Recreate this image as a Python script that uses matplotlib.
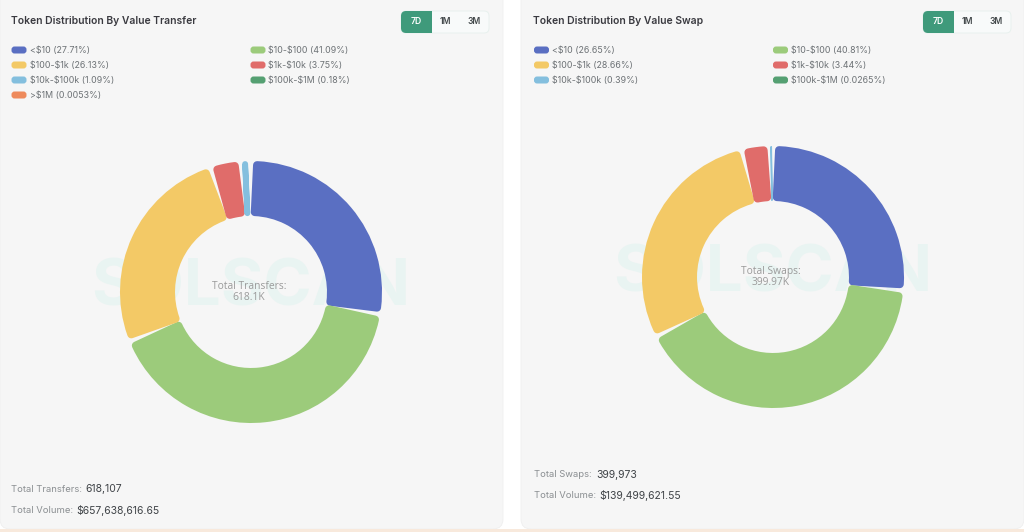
import matplotlib
matplotlib.use("Agg")
import matplotlib.pyplot as plt
from matplotlib.patches import FancyBboxPatch, Rectangle

plt.rcParams['font.family'] = ['Inter', 'DejaVu Sans']

# left chart
transfer_labels = ['<$10', '$10-$100', '$100-$1k', '$1k-$10k', '$10k-$100k', '$100k-$1M', '>$1M']
transfer_pct = [27.71, 41.09, 26.13, 3.75, 1.09, 0.18, 0.0053]
transfer_pct_text = ['27.71%', '41.09%', '26.13%', '3.75%', '1.09%', '0.18%', '0.0053%']
# right chart
swap_labels = ['<$10', '$10-$100', '$100-$1k', '$1k-$10k', '$10k-$100k', '$100k-$1M']
swap_pct = [26.65, 40.81, 28.66, 3.44, 0.39, 0.0265]
swap_pct_text = ['26.65%', '40.81%', '28.66%', '3.44%', '0.39%', '0.0265%']

colors = ['#5a6fc2', '#9ccb7b', '#f3c966', '#e06c6a', '#84bfde', '#55a072', '#ee8a5c']
buttons = ['7D', '1M', '3M']

W, H = 1024, 532
fig = plt.figure(figsize=(W / 100, H / 100), dpi=100, facecolor='white')
bg = fig.add_axes([0, 0, 1, 1], zorder=0)
bg.set_xlim(0, W)
bg.set_ylim(H, 0)
bg.axis('off')


def put_text(ax, x, y, s, **kw):
    return ax.text(x, y, s, parse_math=False, va='center', **kw)


def draw_panel(x0, x1, title, labels, pct, pct_text, cx, cy, center_title, center_val,
               bottom_y, bottom1, bottom2, val_x1, val_x2):
    bg.add_patch(FancyBboxPatch((x0, -20), x1 - x0, 549, boxstyle='round,pad=0,rounding_size=10',
                                fc='#f6f6f6', ec='#efefef', lw=0.6))
    put_text(bg, x0 + 11 if x0 == 0 else x0 + 12, 21, title, fontsize=7.45, color='#3a3a40',
             weight='semibold')

    # button group
    bx = x0 + 401 if x0 == 0 else x0 + 402
    bg.add_patch(FancyBboxPatch((bx, 11), 88, 22, boxstyle='round,pad=0,rounding_size=5',
                                fc='#f8fafa', ec='#e8f1ee', lw=0.7))
    bg.add_patch(FancyBboxPatch((bx, 11), 30, 22, boxstyle='round,pad=0,rounding_size=5',
                                fc='#3f9a7b', ec='none'))
    bg.add_patch(Rectangle((bx + 24, 11), 7, 22, fc='#3f9a7b', ec='none'))
    for i, b in enumerate(buttons):
        put_text(bg, bx + 15 + i * 29, 21.5, b, fontsize=6.2, weight='semibold',
                 color='white' if i == 0 else '#444a4c', ha='center')

    # legend, two columns
    lx0 = x0 + 11.5 if x0 == 0 else x0 + 13
    for i, (lab, t) in enumerate(zip(labels, pct_text)):
        col, row = i % 2, i // 2
        sx = lx0 + col * 239
        sy = 50 + row * 15
        bg.add_patch(FancyBboxPatch((sx, sy - 3.5), 15, 7, boxstyle='round,pad=0,rounding_size=3',
                                    fc=colors[i], ec='none'))
        put_text(bg, sx + 18, sy + 0.3, f'{lab} ({t})', fontsize=6.4, color='#6d7276')

    # watermark sits behind the donut
    put_text(bg, cx, cy - 3, 'SOLSCAN', fontsize=47, weight='bold', color='#e9f4f2', ha='center')

    r = 131
    ax = fig.add_axes([(cx - r) / W, 1 - (cy + r) / H, 2 * r / W, 2 * r / H], zorder=1)
    wedges, _ = ax.pie(pct, colors=colors[:len(pct)], startangle=90, counterclock=False, radius=1,
                       wedgeprops=dict(width=0.4))
    ax.set_xlim(-1, 1)
    ax.set_ylim(-1, 1)
    ax.patch.set_alpha(0)

    # rounded slice corners: pull each wedge in and give it a thick round edge in its own colour
    for w, p in zip(wedges, pct):
        arc = p / 100 * 2 * 3.14159 * 105
        if arc < 2:
            w.set_visible(False)
            continue
        lw_px = min(8, max(arc - 1.5, 1.5))
        inset = lw_px / 2 / r
        w.set_radius(1 - inset)
        w.set_width(0.4 - 2 * inset + 0.02)
        pad = (lw_px / 2 + 1.0) / 105 * 57.3
        mid = (w.theta1 + w.theta2) / 2
        half = max((w.theta2 - w.theta1) / 2 - pad, 0.05)
        w.set_theta1(mid - half)
        w.set_theta2(mid + half)
        w.set_edgecolor(w.get_facecolor())
        w.set_linewidth(lw_px * 0.72)
        w.set_joinstyle('round')

    top = fig.add_axes([0, 0, 1, 1], zorder=2)
    top.set_xlim(0, W)
    top.set_ylim(H, 0)
    top.axis('off')
    center_font = ['Open Sans', 'DejaVu Sans']
    put_text(top, cx - 2, cy - 5.5, center_title, fontsize=7.4, color='#9a9a9a', ha='center',
             family=center_font)
    put_text(top, cx - 2, cy + 5.5, center_val, fontsize=7.4, color='#9a9a9a', ha='center',
             family=center_font)

    # totals at the bottom
    tx = x0 + 11 if x0 == 0 else x0 + 13
    for y, (lab, val), vx in zip(bottom_y, [bottom1, bottom2], [val_x1, val_x2]):
        put_text(bg, tx, y, lab, fontsize=6.8, color='#8b8f92')
        put_text(bg, vx, y, val, fontsize=7.5, color='#3f4347')


draw_panel(0, 503, 'Token Distribution By Value Transfer', transfer_labels, transfer_pct,
           transfer_pct_text, 251, 292, 'Total Transfers:', '618.1K', [489.5, 510.5],
           ('Total Transfers:', '618,107'), ('Total Volume:', '$657,638,616.65'), 85, 76)
draw_panel(521, 1024, 'Token Distribution By Value Swap', swap_labels, swap_pct,
           swap_pct_text, 773, 277, 'Total Swaps:', '399.97K', [474.5, 495.5],
           ('Total Swaps:', '399,973'), ('Total Volume:', '$139,499,621.55'), 596, 599)

# peach strip along the bottom edge
bg.add_patch(Rectangle((0, 529), W, 3, fc='#f8e9dc', ec='none'))

fig.savefig('out.png', dpi=100)
